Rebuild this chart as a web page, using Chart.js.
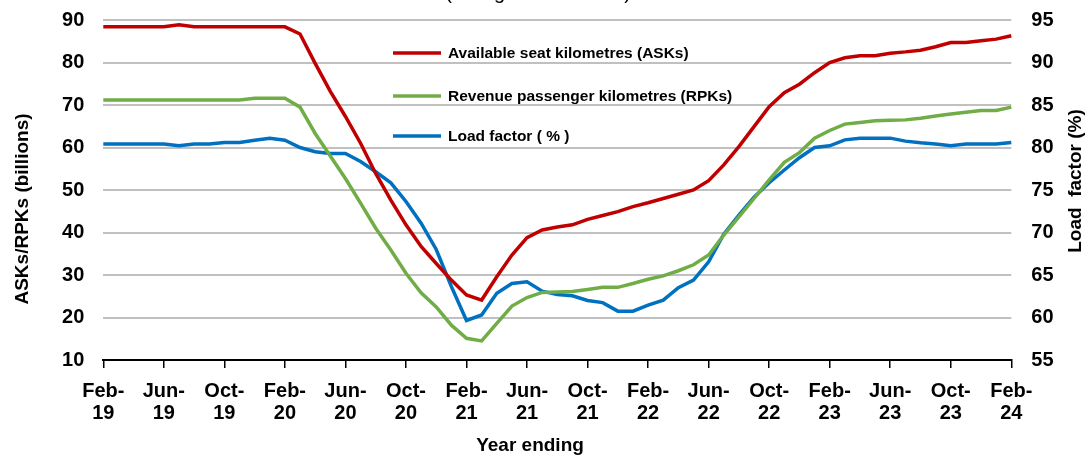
<!DOCTYPE html>
<html>
<head>
<meta charset="utf-8">
<script src="https://cdn.jsdelivr.net/npm/chart.js@4/dist/chart.umd.min.js"></script>
<style>
  html, body { margin: 0; padding: 0; background: #fff; }
  #wrap { width: 1086px; height: 455px; position: relative; }
</style>
</head>
<body>
<div id="wrap"><canvas id="myChart" width="1086" height="455"></canvas></div>
<script>
// Months (year ending), Feb-19 .. Feb-24
const months = [
  'Feb-19','Mar-19','Apr-19','May-19','Jun-19','Jul-19','Aug-19','Sep-19','Oct-19','Nov-19','Dec-19','Jan-20',
  'Feb-20','Mar-20','Apr-20','May-20','Jun-20','Jul-20','Aug-20','Sep-20','Oct-20','Nov-20','Dec-20','Jan-21',
  'Feb-21','Mar-21','Apr-21','May-21','Jun-21','Jul-21','Aug-21','Sep-21','Oct-21','Nov-21','Dec-21','Jan-22',
  'Feb-22','Mar-22','Apr-22','May-22','Jun-22','Jul-22','Aug-22','Sep-22','Oct-22','Nov-22','Dec-22','Jan-23',
  'Feb-23','Mar-23','Apr-23','May-23','Jun-23','Jul-23','Aug-23','Sep-23','Oct-23','Nov-23','Dec-23','Jan-24',
  'Feb-24'
];

// ASKs, billions (left axis)
const asks = [
  88.4, 88.4, 88.4, 88.4, 88.4, 88.9, 88.4, 88.4, 88.4, 88.4, 88.4, 88.4,
  88.4, 86.7, 79.8, 73.2, 67.3, 61.0, 53.9, 47.6, 41.8, 36.7, 32.7, 28.8,
  25.3, 24.1, 29.6, 34.7, 38.8, 40.6, 41.3, 41.8, 43.1, 44.0, 44.9, 46.1,
  47.0, 48.0, 49.0, 50.0, 52.2, 55.9, 60.2, 64.9, 69.6, 72.9, 74.9, 77.6,
  80.0, 81.1, 81.6, 81.6, 82.2, 82.5, 82.9, 83.7, 84.7, 84.7, 85.1, 85.5,
  86.3
];

// RPKs, billions (left axis)
const rpks = [
  71.2, 71.2, 71.2, 71.2, 71.2, 71.2, 71.2, 71.2, 71.2, 71.2, 71.6, 71.6,
  71.6, 69.5, 63.3, 58.0, 52.7, 46.9, 41.0, 35.9, 30.4, 25.8, 22.5, 18.2,
  15.1, 14.5, 18.6, 22.7, 24.7, 25.9, 26.0, 26.1, 26.6, 27.1, 27.1, 28.0,
  29.0, 29.8, 31.0, 32.4, 34.7, 39.4, 43.7, 48.0, 52.4, 56.5, 58.8, 62.2,
  64.0, 65.5, 65.9, 66.3, 66.4, 66.5, 66.9, 67.4, 67.9, 68.3, 68.7, 68.7,
  69.5
];

// Load factor, % (right axis)
const loadFactor = [
  80.4, 80.4, 80.4, 80.4, 80.4, 80.2, 80.4, 80.4, 80.6, 80.6, 80.85, 81.1,
  80.85, 80.0, 79.5, 79.3, 79.3, 78.35, 77.15, 75.85, 73.65, 71.1, 68.0, 63.65,
  59.65, 60.3, 62.85, 64.0, 64.2, 63.1, 62.7, 62.55, 62.0, 61.75, 60.75, 60.75,
  61.45, 62.05, 63.5, 64.4, 66.55, 69.8, 72.05, 74.15, 75.85, 77.35, 78.8, 80.0,
  80.2, 80.9, 81.1, 81.1, 81.1, 80.75, 80.55, 80.4, 80.2, 80.4, 80.4, 80.4,
  80.6
];

const FONT = '"Liberation Sans", Arial, sans-serif';

// extra texts + legend inside the plot
const extras = {
  id: 'extras',
  afterDraw(chart) {
    const ctx = chart.ctx;
    ctx.save();
    ctx.fillStyle = '#000';

    // cut-off subtitle at the very top
    ctx.font = '20px ' + FONT;
    ctx.textAlign = 'center';
    ctx.textBaseline = 'alphabetic';
    ctx.fillText('(rolling annual totals)', 538, -1);

    // axis titles
    ctx.font = 'bold 19px ' + FONT;
    ctx.textBaseline = 'middle';
    ctx.save();
    ctx.translate(23, 209);
    ctx.rotate(-Math.PI / 2);
    ctx.fillText('ASKs/RPKs (billions)', 0, 0);
    ctx.restore();
    ctx.save();
    ctx.translate(1076, 181);
    ctx.rotate(-Math.PI / 2);
    ctx.fillText('Load  factor (%)', 0, 0);
    ctx.restore();
    ctx.fillText('Year ending', 530, 446);

    // legend
    const rows = [53, 96, 136];
    ctx.font = 'bold 15.5px ' + FONT;
    ctx.textAlign = 'left';
    chart.data.datasets.forEach((ds, i) => {
      ctx.strokeStyle = ds.borderColor;
      ctx.lineWidth = 3.5;
      ctx.beginPath();
      ctx.moveTo(393, rows[i]);
      ctx.lineTo(441, rows[i]);
      ctx.stroke();
      ctx.fillText(ds.label, 448, rows[i] + 1);
    });
    ctx.restore();
  }
};

// fixed box sizes so the plot area lands where the reference has it
function fixBox(w, h) {
  return function (scale) {
    if (w !== null) scale.width = w;
    if (h !== null) scale.height = h;
    scale.paddingTop = 0;
    scale.paddingBottom = 0;
    scale.paddingLeft = 0;
    scale.paddingRight = 0;
  };
}

const ctx = document.getElementById('myChart').getContext('2d');
const myChart = new Chart(ctx, {
  type: 'line',
  data: {
    labels: months,
    datasets: [
      { label: 'Available seat kilometres (ASKs)', data: asks, borderColor: '#C00000', yAxisID: 'y' },
      { label: 'Revenue passenger kilometres (RPKs)', data: rpks, borderColor: '#70AD47', yAxisID: 'y' },
      { label: 'Load factor ( % )', data: loadFactor, borderColor: '#0070C0', yAxisID: 'y1' }
    ]
  },
  options: {
    responsive: false,
    animation: false,
    layout: { padding: { top: 20, left: 0, right: 0, bottom: 0 } },
    elements: {
      line: { borderWidth: 3.5, tension: 0, fill: false },
      point: { radius: 0 }
    },
    plugins: {
      legend: { display: false },
      tooltip: { enabled: false }
    },
    scales: {
      x: {
        offset: false,
        afterFit: fixBox(null, 95),
        grid: { drawOnChartArea: false, drawTicks: true, tickLength: 8, color: '#000', lineWidth: 1.5 },
        border: { display: true, color: '#000', width: 2 },
        ticks: {
          autoSkip: false,
          maxRotation: 0,
          padding: 12,
          color: '#000',
          font: { family: FONT, size: 20, weight: 'bold', lineHeight: 1.12 },
          callback(value, index) {
            if (index % 4 !== 0) return null;
            const parts = months[index].split('-');
            return [parts[0] + '-', parts[1]];
          }
        }
      },
      y: {
        position: 'left',
        min: 10,
        max: 90,
        afterFit: fixBox(103.3, null),
        grid: { color: '#c0c0c0', lineWidth: 2, drawTicks: false },
        border: { display: false },
        ticks: {
          stepSize: 10,
          padding: 19,
          color: '#000',
          font: { family: FONT, size: 20, weight: 'bold' }
        }
      },
      y1: {
        position: 'right',
        min: 55,
        max: 95,
        afterFit: fixBox(1086 - 1011.3, null),
        grid: { drawOnChartArea: false, drawTicks: false },
        border: { display: false },
        ticks: {
          stepSize: 5,
          padding: 20,
          color: '#000',
          font: { family: FONT, size: 20, weight: 'bold' }
        }
      }
    }
  },
  plugins: [extras]
});
</script>
</body>
</html>
